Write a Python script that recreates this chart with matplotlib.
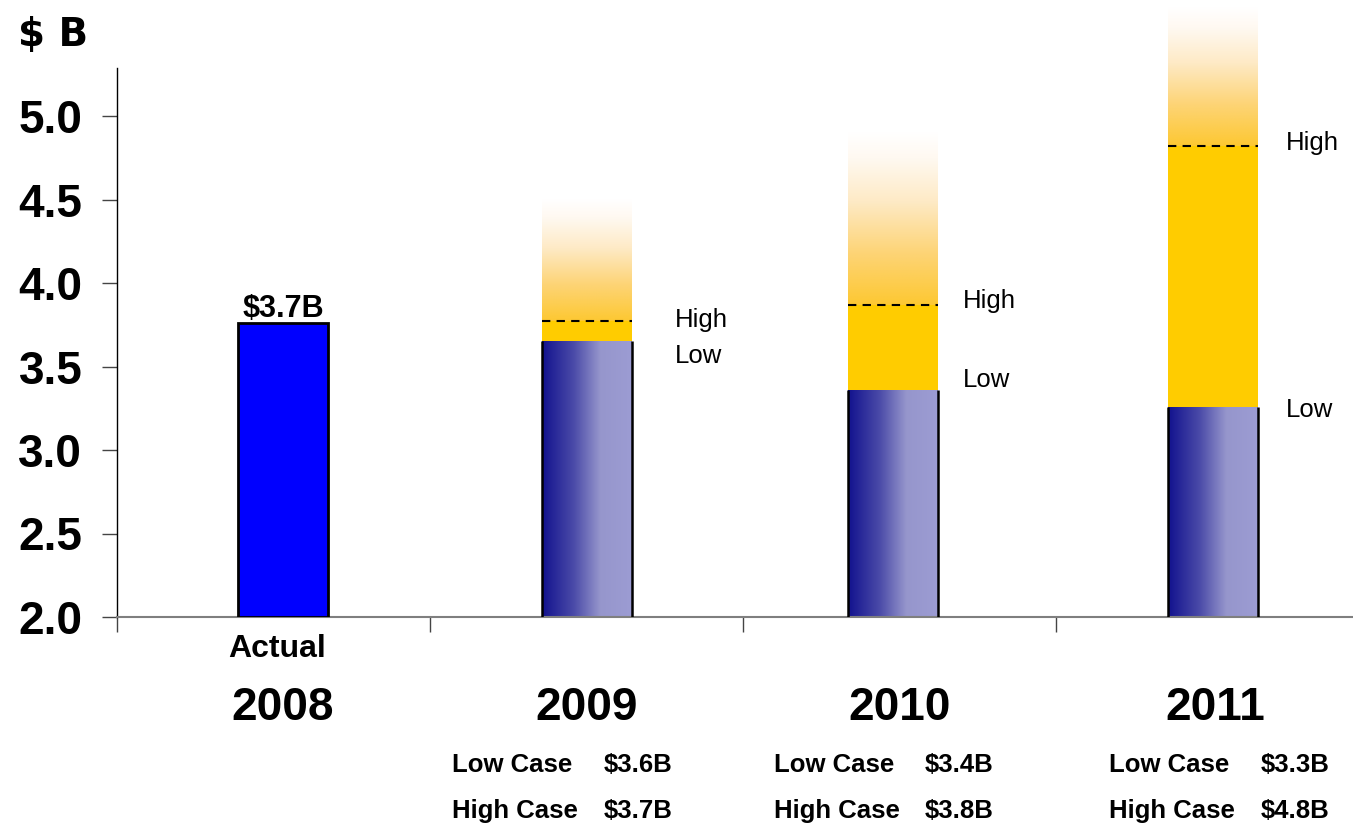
import numpy as np
import matplotlib
matplotlib.use('Agg')
import matplotlib.pyplot as plt
from matplotlib.colors import LinearSegmentedColormap
from matplotlib import transforms

# ---- data ----
years = ['2008', '2009', '2010', '2011']
actual_2008 = 3.76
forecast_years = ['2009', '2010', '2011']
low_case = [3.65, 3.36, 3.26]
high_case = [3.77, 3.87, 4.82]
fade_height = [0.73, 1.03, 0.83]
low_case_labels = ['$3.6B', '$3.4B', '$3.3B']
high_case_labels = ['$3.7B', '$3.8B', '$4.8B']
yticks = [2.0, 2.5, 3.0, 3.5, 4.0, 4.5, 5.0]
ytick_labels = ['2.0', '2.5', '3.0', '3.5', '4.0', '4.5', '5.0']

FONT = 'Liberation Sans'
plt.rcParams['font.family'] = [FONT, 'DejaVu Sans']

W, H = 1353, 827
fig = plt.figure(figsize=(W / 100, H / 100), dpi=100)
ax_left, ax_bottom, ax_top = 117, 617, 68
ax = fig.add_axes([ax_left / W, 1 - ax_bottom / H, 1 - ax_left / W, (ax_bottom - ax_top) / H])

ymin = 2.0
ppu = 167.0  # pixels per unit
ymax = ymin + (ax_bottom - ax_top) / ppu
cat_px = 313.0
xmin = -0.5
xmax = xmin + (W - ax_left) / cat_px

bw = 90 / cat_px

blue_cmap = LinearSegmentedColormap.from_list(
    'blu', [(0, '#12128E'), (0.35, '#4A4AA8'), (0.65, '#9696CC'), (1.0, '#9C9CD3')])
fade_cmap = LinearSegmentedColormap.from_list(
    'fade', [(0, '#FDC832'), (0.3, '#FDD476'), (0.6, '#FEEAC6'), (0.85, '#FFF9F1'), (1.0, '#FFFFFF')])

hgrad = np.linspace(0, 1, 256).reshape(1, -1)
vgrad = np.linspace(0, 1, 256).reshape(-1, 1)

# 2008 actual bar
ax.bar(0.03, actual_2008 - ymin, bottom=ymin, width=bw, color='#0000FF',
       edgecolor='black', linewidth=2, zorder=3)
ax.text(0.03, actual_2008 + 0.035, '$3.7B', ha='center', va='baseline',
        fontsize=22, fontweight='bold', zorder=5)

bar_nudge = [0.0, -0.02, 0.0]
label_dx = [0.14, 0.08, 0.09]
high_dy = [0.01, 0.02, 0.02]
low_dy = [-0.09, 0.06, -0.02]

for i, (lo, hi, fh) in enumerate(zip(low_case, high_case, fade_height)):
    x = i + 1 + bar_nudge[i]
    x0, x1 = x - bw / 2, x + bw / 2
    # blue low-case bar with horizontal gradient
    ax.imshow(hgrad, extent=[x0, x1, ymin, lo], aspect='auto', cmap=blue_cmap,
              origin='lower', zorder=2, interpolation='bilinear')
    ax.vlines([x0, x1], ymin, lo, colors='black', linewidth=1.8, zorder=3)
    # yellow range
    ax.bar(x, hi - lo, bottom=lo, width=bw, color='#FFCC00', linewidth=0, zorder=2)
    # fading upside
    ax.imshow(vgrad, extent=[x0, x1, hi, hi + fh], aspect='auto', cmap=fade_cmap,
              origin='lower', zorder=1.5, clip_on=False, interpolation='bilinear')
    # dashed high line
    ax.hlines(hi, x0, x1, colors='black', linestyles=(0, (4, 3)), linewidth=1.5, zorder=4)
    ax.text(x1 + label_dx[i], hi + high_dy[i], 'High', ha='left', va='center', fontsize=18.5)
    ax.text(x1 + label_dx[i], lo + low_dy[i], 'Low', ha='left', va='center', fontsize=18.5)

# axes styling
for s in ['top', 'right']:
    ax.spines[s].set_visible(False)
ax.spines['left'].set_color('black')
ax.spines['left'].set_linewidth(1.0)
ax.spines['bottom'].set_color('#7F7F7F')
ax.spines['bottom'].set_linewidth(1.5)

ax.set_yticks(yticks)
ax.set_yticklabels(ytick_labels, fontsize=33, fontweight='bold')
ax.tick_params(axis='y', direction='out', length=11, width=1, color='#444444', pad=14)

ax.set_xticks([-0.5, 0.5, 1.5, 2.5])
ax.set_xticklabels([])
ax.tick_params(axis='x', direction='out', length=11, width=1, color='#444444')

ax.set_xlim(xmin, xmax)
ax.set_ylim(ymin, ymax)

# category labels
tr = transforms.blended_transform_factory(ax.transData, fig.transFigure)
year_nudge = [0.03, 0.0, 0.0, 0.01]
for i, yr in enumerate(years):
    fig.text(i + year_nudge[i], 1 - 720 / H, yr, transform=tr, ha='center', va='baseline',
             fontsize=33, fontweight='bold')
fig.text(0.01, 1 - 657 / H, 'Actual', transform=tr, ha='center', va='baseline',
         fontsize=23, fontweight='bold')

name_dx = [-0.43, -0.40, -0.33]
val_dx = [0.056, 0.081, 0.155]
for i in range(3):
    x = i + 1
    fig.text(x + name_dx[i], 1 - 772 / H, 'Low Case', transform=tr, ha='left',
             va='baseline', fontsize=18.5, fontweight='bold')
    fig.text(x + val_dx[i], 1 - 772 / H, low_case_labels[i], transform=tr, ha='left',
             va='baseline', fontsize=18.5, fontweight='bold')
    fig.text(x + name_dx[i], 1 - 818 / H, 'High Case', transform=tr, ha='left',
             va='baseline', fontsize=18.5, fontweight='bold')
    fig.text(x + val_dx[i], 1 - 818 / H, high_case_labels[i], transform=tr, ha='left',
             va='baseline', fontsize=18.5, fontweight='bold')

fig.text(18 / W, 1 - 46 / H, '$ B', ha='left', va='baseline', fontsize=28,
         fontweight='bold', family='DejaVu Sans')

fig.savefig('out.png', dpi=100)
